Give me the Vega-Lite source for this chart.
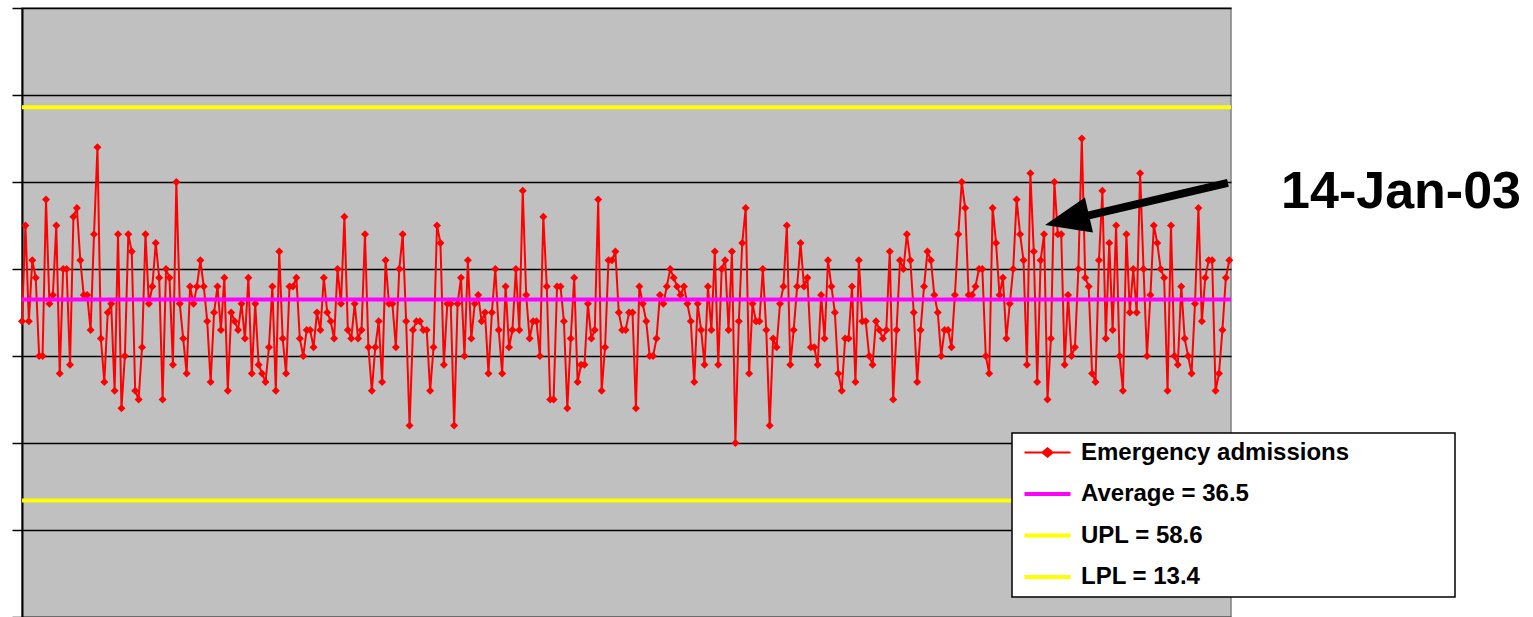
{
  "$schema": "https://vega.github.io/schema/vega-lite/v6.json",
  "width": 1209,
  "height": 609,
  "autosize": {"type": "none"},
  "padding": {"left": 22, "top": 8, "right": 302, "bottom": 0},
  "background": "white",
  "config": {
    "view": {"fill": "#C0C0C0", "stroke": "#808080", "strokeWidth": 1.5},
    "font": "Liberation Sans"
  },
  "layer": [
    {
      "data": {"values": [
        {"d":1,"v":34},{"d":2,"v":45},{"d":3,"v":34},{"d":4,"v":41},{"d":5,"v":39},{"d":6,"v":30},{"d":7,"v":30},{"d":8,"v":48},{"d":9,"v":36},{"d":10,"v":37},
        {"d":11,"v":45},{"d":12,"v":28},{"d":13,"v":40},{"d":14,"v":40},{"d":15,"v":29},{"d":16,"v":46},{"d":17,"v":47},{"d":18,"v":41},{"d":19,"v":37},{"d":20,"v":37},
        {"d":21,"v":33},{"d":22,"v":44},{"d":23,"v":54},{"d":24,"v":32},{"d":25,"v":27},{"d":26,"v":35},{"d":27,"v":36},{"d":28,"v":26},{"d":29,"v":44},{"d":30,"v":24},
        {"d":31,"v":30},{"d":32,"v":44},{"d":33,"v":42},{"d":34,"v":26},{"d":35,"v":25},{"d":36,"v":31},{"d":37,"v":44},{"d":38,"v":36},{"d":39,"v":38},{"d":40,"v":43},
        {"d":41,"v":39},{"d":42,"v":25},{"d":43,"v":40},{"d":44,"v":39},{"d":45,"v":29},{"d":46,"v":50},{"d":47,"v":36},{"d":48,"v":32},{"d":49,"v":28},{"d":50,"v":38},
        {"d":51,"v":36},{"d":52,"v":38},{"d":53,"v":41},{"d":54,"v":38},{"d":55,"v":34},{"d":56,"v":27},{"d":57,"v":35},{"d":58,"v":38},{"d":59,"v":33},{"d":60,"v":39},
        {"d":61,"v":26},{"d":62,"v":35},{"d":63,"v":34},{"d":64,"v":33},{"d":65,"v":36},{"d":66,"v":32},{"d":67,"v":39},{"d":68,"v":28},{"d":69,"v":36},{"d":70,"v":29},
        {"d":71,"v":28},{"d":72,"v":27},{"d":73,"v":31},{"d":74,"v":38},{"d":75,"v":26},{"d":76,"v":42},{"d":77,"v":32},{"d":78,"v":28},{"d":79,"v":38},{"d":80,"v":38},
        {"d":81,"v":39},{"d":82,"v":32},{"d":83,"v":30},{"d":84,"v":33},{"d":85,"v":33},{"d":86,"v":31},{"d":87,"v":35},{"d":88,"v":33},{"d":89,"v":39},{"d":90,"v":35},
        {"d":91,"v":34},{"d":92,"v":32},{"d":93,"v":40},{"d":94,"v":36},{"d":95,"v":46},{"d":96,"v":33},{"d":97,"v":32},{"d":98,"v":36},{"d":99,"v":32},{"d":100,"v":33},
        {"d":101,"v":44},{"d":102,"v":31},{"d":103,"v":26},{"d":104,"v":31},{"d":105,"v":34},{"d":106,"v":27},{"d":107,"v":41},{"d":108,"v":36},{"d":109,"v":36},{"d":110,"v":31},
        {"d":111,"v":40},{"d":112,"v":44},{"d":113,"v":34},{"d":114,"v":22},{"d":115,"v":33},{"d":116,"v":34},{"d":117,"v":34},{"d":118,"v":33},{"d":119,"v":33},{"d":120,"v":26},
        {"d":121,"v":31},{"d":122,"v":45},{"d":123,"v":43},{"d":124,"v":29},{"d":125,"v":36},{"d":126,"v":36},{"d":127,"v":22},{"d":128,"v":36},{"d":129,"v":39},{"d":130,"v":30},
        {"d":131,"v":41},{"d":132,"v":32},{"d":133,"v":36},{"d":134,"v":37},{"d":135,"v":34},{"d":136,"v":35},{"d":137,"v":28},{"d":138,"v":35},{"d":139,"v":40},{"d":140,"v":33},
        {"d":141,"v":28},{"d":142,"v":38},{"d":143,"v":31},{"d":144,"v":33},{"d":145,"v":40},{"d":146,"v":33},{"d":147,"v":49},{"d":148,"v":37},{"d":149,"v":32},{"d":150,"v":34},
        {"d":151,"v":34},{"d":152,"v":30},{"d":153,"v":46},{"d":154,"v":38},{"d":155,"v":25},{"d":156,"v":25},{"d":157,"v":38},{"d":158,"v":38},{"d":159,"v":34},{"d":160,"v":24},
        {"d":161,"v":32},{"d":162,"v":39},{"d":163,"v":27},{"d":164,"v":29},{"d":165,"v":29},{"d":166,"v":36},{"d":167,"v":32},{"d":168,"v":33},{"d":169,"v":48},{"d":170,"v":26},
        {"d":171,"v":31},{"d":172,"v":41},{"d":173,"v":41},{"d":174,"v":42},{"d":175,"v":35},{"d":176,"v":33},{"d":177,"v":33},{"d":178,"v":35},{"d":179,"v":35},{"d":180,"v":24},
        {"d":181,"v":38},{"d":182,"v":36},{"d":183,"v":34},{"d":184,"v":30},{"d":185,"v":30},{"d":186,"v":32},{"d":187,"v":37},{"d":188,"v":36},{"d":189,"v":38},{"d":190,"v":40},
        {"d":191,"v":39},{"d":192,"v":38},{"d":193,"v":37},{"d":194,"v":38},{"d":195,"v":36},{"d":196,"v":34},{"d":197,"v":27},{"d":198,"v":36},{"d":199,"v":33},{"d":200,"v":29},
        {"d":201,"v":38},{"d":202,"v":33},{"d":203,"v":42},{"d":204,"v":29},{"d":205,"v":40},{"d":206,"v":41},{"d":207,"v":33},{"d":208,"v":42},{"d":209,"v":20},{"d":210,"v":34},
        {"d":211,"v":43},{"d":212,"v":47},{"d":213,"v":28},{"d":214,"v":36},{"d":215,"v":34},{"d":216,"v":34},{"d":217,"v":40},{"d":218,"v":33},{"d":219,"v":22},{"d":220,"v":32},
        {"d":221,"v":31},{"d":222,"v":36},{"d":223,"v":38},{"d":224,"v":45},{"d":225,"v":29},{"d":226,"v":33},{"d":227,"v":38},{"d":228,"v":43},{"d":229,"v":38},{"d":230,"v":39},
        {"d":231,"v":31},{"d":232,"v":31},{"d":233,"v":29},{"d":234,"v":37},{"d":235,"v":32},{"d":236,"v":41},{"d":237,"v":38},{"d":238,"v":35},{"d":239,"v":28},{"d":240,"v":26},
        {"d":241,"v":32},{"d":242,"v":32},{"d":243,"v":38},{"d":244,"v":27},{"d":245,"v":41},{"d":246,"v":34},{"d":247,"v":34},{"d":248,"v":30},{"d":249,"v":29},{"d":250,"v":34},
        {"d":251,"v":33},{"d":252,"v":32},{"d":253,"v":33},{"d":254,"v":42},{"d":255,"v":25},{"d":256,"v":33},{"d":257,"v":41},{"d":258,"v":40},{"d":259,"v":44},{"d":260,"v":41},
        {"d":261,"v":35},{"d":262,"v":27},{"d":263,"v":33},{"d":264,"v":38},{"d":265,"v":42},{"d":266,"v":41},{"d":267,"v":37},{"d":268,"v":35},{"d":269,"v":30},{"d":270,"v":33},
        {"d":271,"v":33},{"d":272,"v":31},{"d":273,"v":37},{"d":274,"v":44},{"d":275,"v":50},{"d":276,"v":47},{"d":277,"v":37},{"d":278,"v":37},{"d":279,"v":38},{"d":280,"v":40},
        {"d":281,"v":40},{"d":282,"v":30},{"d":283,"v":28},{"d":284,"v":47},{"d":285,"v":43},{"d":286,"v":37},{"d":287,"v":39},{"d":288,"v":32},{"d":289,"v":36},{"d":290,"v":40},
        {"d":291,"v":48},{"d":292,"v":44},{"d":293,"v":41},{"d":294,"v":29},{"d":295,"v":51},{"d":296,"v":42},{"d":297,"v":27},{"d":298,"v":41},{"d":299,"v":44},{"d":300,"v":25},
        {"d":301,"v":32},{"d":302,"v":50},{"d":303,"v":44},{"d":304,"v":44},{"d":305,"v":29},{"d":306,"v":37},{"d":307,"v":30},{"d":308,"v":31},{"d":309,"v":40},{"d":310,"v":55},
        {"d":311,"v":39},{"d":312,"v":38},{"d":313,"v":28},{"d":314,"v":27},{"d":315,"v":41},{"d":316,"v":49},{"d":317,"v":32},{"d":318,"v":43},{"d":319,"v":33},{"d":320,"v":45},
        {"d":321,"v":30},{"d":322,"v":26},{"d":323,"v":44},{"d":324,"v":35},{"d":325,"v":40},{"d":326,"v":35},{"d":327,"v":51},{"d":328,"v":40},{"d":329,"v":30},{"d":330,"v":37},
        {"d":331,"v":45},{"d":332,"v":43},{"d":333,"v":40},{"d":334,"v":39},{"d":335,"v":26},{"d":336,"v":45},{"d":337,"v":30},{"d":338,"v":29},{"d":339,"v":38},{"d":340,"v":32},
        {"d":341,"v":30},{"d":342,"v":28},{"d":343,"v":36},{"d":344,"v":47},{"d":345,"v":34},{"d":346,"v":39},{"d":347,"v":41},{"d":348,"v":41},{"d":349,"v":26},{"d":350,"v":28},
        {"d":351,"v":33},{"d":352,"v":39},{"d":353,"v":41}
      ]},
      "mark": {"type": "line", "strokeWidth": 2, "point": {"shape": "diamond", "size": 64, "filled": true}},
      "encoding": {
        "x": {"field": "d", "type": "quantitative", "scale": {"domain": [1, 353.5], "nice": false, "zero": false}, "axis": null},
        "y": {"field": "v", "type": "quantitative", "scale": {"domain": [0, 70], "nice": false},
          "axis": {"values": [0, 10, 20, 30, 40, 50, 60, 70], "labels": false, "ticks": true, "tickSize": 10, "tickWidth": 1.5, "tickColor": "black",
            "domainColor": "black", "domainWidth": 2, "grid": true, "gridColor": "black", "gridWidth": 1.5, "title": null}},
        "color": {"datum": "Emergency admissions", "type": "nominal", "title": " ",
          "scale": {"domain": ["Emergency admissions", "Average = 36.5", "UPL = 58.6", "LPL = 13.4"], "range": ["#FF0000", "#FF00FF", "#FFFF00", "#FFFF00"]},
          "legend": {
            "orient": "none", "legendX": 990, "legendY": 425, "title": " ",
            "titleOrient": "right", "titlePadding": 98, "titleFontSize": 4,
            "strokeColor": "black", "fillColor": "white", "padding": 7.5,
            "symbolOffset": 16, "symbolSize": 529, "symbolStrokeWidth": 4,
            "labelFont": "Liberation Sans", "labelFontSize": 24, "labelFontWeight": "bold", "labelColor": "black",
            "labelOffset": 21.5, "rowPadding": 17.5, "labelLimit": 500,
            "encode": {
              "symbols": {"update": {
                "shape": {"signal": "datum.value === 'Emergency admissions' ? 'M-2,0H2M0,-0.36L0.44,0L0,0.36L-0.44,0Z' : 'M-2,0H2'"},
                "fill": {"signal": "datum.value === 'Emergency admissions' ? '#FF0000' : 'transparent'"},
                "strokeWidth": {"signal": "datum.value === 'Emergency admissions' ? 2 : 4"}
              }},
              "legend": {"update": {"strokeWidth": {"value": 1.5}}}
            }
          }
        }
      }
    },
    {
      "data": {"values": [
        {"series": "Average = 36.5", "v": 36.5},
        {"series": "UPL = 58.6", "v": 58.6},
        {"series": "LPL = 13.4", "v": 13.4}
      ]},
      "mark": {"type": "rule", "strokeWidth": 4},
      "encoding": {
        "y": {"field": "v", "type": "quantitative"},
        "color": {"field": "series", "type": "nominal", "title": " "}
      }
    },
    {
      "data": {"values": [{}]},
      "mark": {"type": "rule", "color": "black", "strokeWidth": 8},
      "encoding": {
        "x": {"datum": 352.6}, "y": {"datum": 49.9},
        "x2": {"datum": 308.0}, "y2": {"datum": 45.8}
      }
    },
    {
      "data": {"values": [{}]},
      "mark": {"type": "point", "shape": "M0,0L-2,-0.8L-2,0.8Z", "size": 2025, "filled": true, "color": "black", "opacity": 1, "angle": 167},
      "encoding": {
        "x": {"datum": 299.3}, "y": {"datum": 45.05}
      }
    },
    {
      "data": {"values": [{"label": "14-Jan-03"}]},
      "mark": {"type": "text", "font": "Liberation Sans", "fontSize": 52, "fontWeight": "bold", "align": "left", "baseline": "alphabetic", "color": "black"},
      "encoding": {
        "x": {"datum": 368.1}, "y": {"datum": 47.0},
        "text": {"field": "label"}
      }
    }
  ]
}
